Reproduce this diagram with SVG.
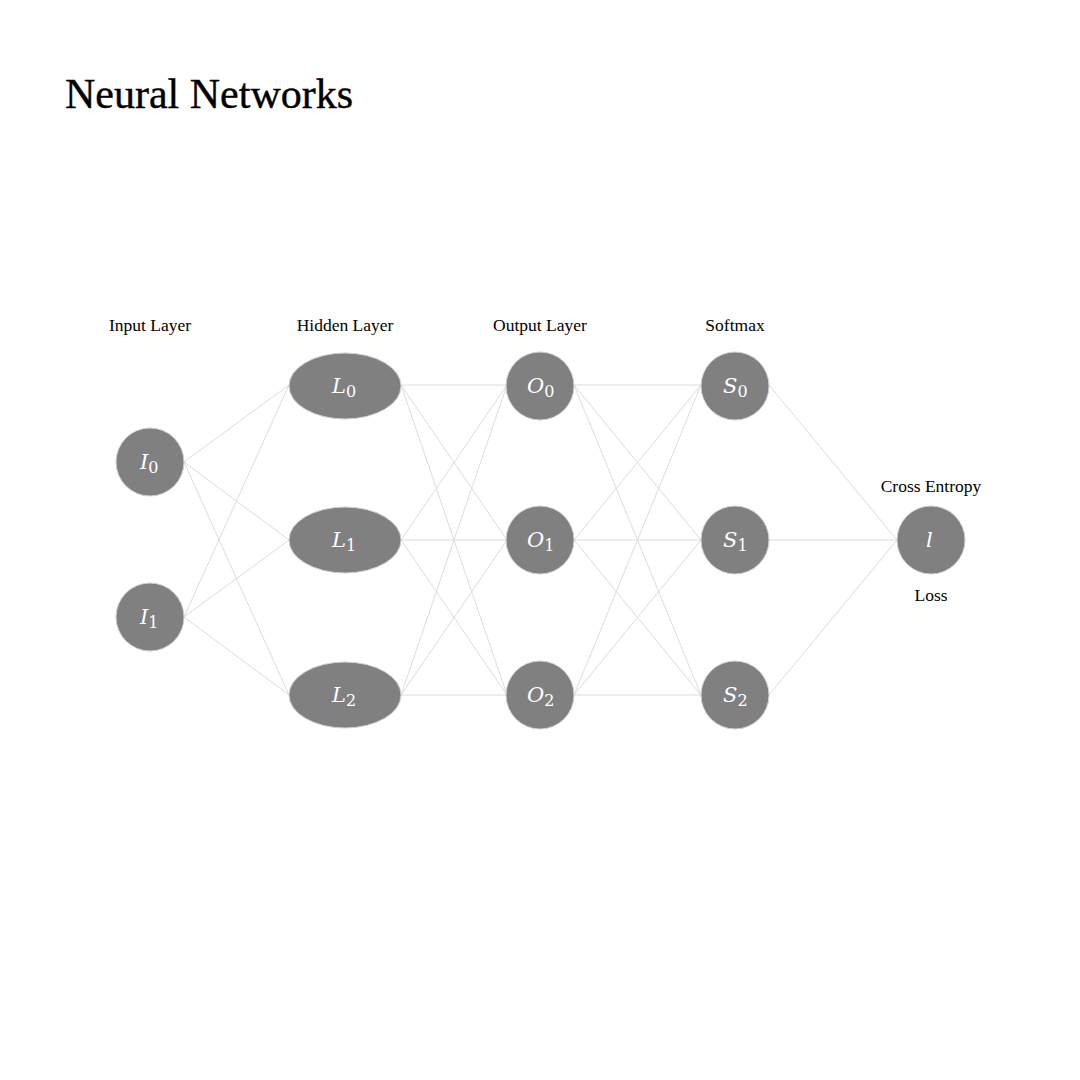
<svg xmlns="http://www.w3.org/2000/svg" width="1080" height="1080" viewBox="0 0 1080 1080">
<style>
.node{fill:#808080;stroke:#d0d0d0;stroke-width:1}
.edge{stroke:#dcdcdc;stroke-width:1;fill:none}
.lbl{font-family:"Liberation Serif",serif;font-size:17.5px;fill:#000;text-anchor:middle}
.math{font-family:"DejaVu Serif","Liberation Serif",serif;font-size:21px;fill:#fff;font-style:italic}
.sub{font-style:normal;font-size:16px}
</style>
<rect width="1080" height="1080" fill="#fff"/>
<text x="65" y="108" font-family="Liberation Serif, serif" font-size="42" fill="#000" stroke="#000" stroke-width="0.4">Neural Networks</text>
<g id="connectors">
<path class="edge" d="M184,462L289,385M184,462L289,540M184,462L289,695M184,617L289,385M184,617L289,540M184,617L289,695"/>
<path class="edge" d="M401,385L507,385M401,385L507,540M401,385L507,695M401,540L507,385M401,540L507,540M401,540L507,695M401,695L507,385M401,695L507,540M401,695L507,695"/>
<path class="edge" d="M574,385L701,385M574,385L701,540M574,385L701,695M574,540L701,385M574,540L701,540M574,540L701,695M574,695L701,385M574,695L701,540M574,695L701,695"/>
<path class="edge" d="M769,385L897,540M769,540L897,540M769,695L897,540"/>
</g>
<g id="labels">
<text class="lbl" x="150" y="331">Input Layer</text>
<text class="lbl" x="345" y="331">Hidden Layer</text>
<text class="lbl" x="540" y="331">Output Layer</text>
<text class="lbl" x="735" y="331">Softmax</text>
<text class="lbl" x="931" y="492">Cross Entropy</text>
<text class="lbl" x="931" y="601">Loss</text>
</g>
<g id="I0"><circle class="node" cx="150" cy="462" r="34"/><text class="math" x="140" y="469">I<tspan class="sub" dy="4">0</tspan></text></g>
<g id="I1"><circle class="node" cx="150" cy="617" r="34"/><text class="math" x="140" y="624">I<tspan class="sub" dy="4">1</tspan></text></g>
<g id="L0"><ellipse class="node" cx="345" cy="386" rx="56" ry="33"/><text class="math" x="332" y="393">L<tspan class="sub" dy="4">0</tspan></text></g>
<g id="L1"><ellipse class="node" cx="345" cy="540" rx="56" ry="33"/><text class="math" x="332" y="547">L<tspan class="sub" dy="4">1</tspan></text></g>
<g id="L2"><ellipse class="node" cx="345" cy="695" rx="56" ry="33"/><text class="math" x="332" y="702">L<tspan class="sub" dy="4">2</tspan></text></g>
<g id="O0"><circle class="node" cx="540" cy="386" r="34"/><text class="math" x="527" y="393">O<tspan class="sub" dy="4">0</tspan></text></g>
<g id="O1"><circle class="node" cx="540" cy="540" r="34"/><text class="math" x="527" y="547">O<tspan class="sub" dy="4">1</tspan></text></g>
<g id="O2"><circle class="node" cx="540" cy="695" r="34"/><text class="math" x="527" y="702">O<tspan class="sub" dy="4">2</tspan></text></g>
<g id="S0"><circle class="node" cx="735" cy="386" r="34"/><text class="math" x="723" y="393">S<tspan class="sub" dy="4">0</tspan></text></g>
<g id="S1"><circle class="node" cx="735" cy="540" r="34"/><text class="math" x="723" y="547">S<tspan class="sub" dy="4">1</tspan></text></g>
<g id="S2"><circle class="node" cx="735" cy="695" r="34"/><text class="math" x="723" y="702">S<tspan class="sub" dy="4">2</tspan></text></g>
<g id="loss"><circle class="node" cx="931" cy="540" r="34"/><text class="math" x="926" y="547">l</text></g>
</svg>
